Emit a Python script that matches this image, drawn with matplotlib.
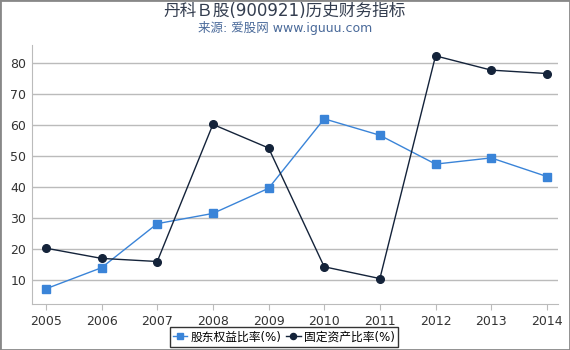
import matplotlib
matplotlib.use("Agg")
import matplotlib.pyplot as plt
from matplotlib.patches import Rectangle

plt.rcParams['font.family'] = ['DejaVu Sans', 'Noto Sans CJK SC']

years = [2005, 2006, 2007, 2008, 2009, 2010, 2011, 2012, 2013, 2014]
equity_ratio = [7.2, 14.0, 28.2, 31.5, 39.6, 62.0, 56.7, 47.4, 49.4, 43.4]
fixed_asset_ratio = [20.3, 17.0, 16.0, 60.2, 52.6, 14.3, 10.5, 82.3, 77.7, 76.6]
yticks = [10, 20, 30, 40, 50, 60, 70, 80]

fig = plt.figure(figsize=(5.7, 3.5), dpi=100)
ax = fig.add_axes([32/570, 1 - 304/350, (558-32)/570, (304-45)/350])

ax.plot(years, equity_ratio, color='#3a84d8', lw=1, marker='s', ms=5.5,
        label='股东权益比率(%)', zorder=3)
ax.plot(years, fixed_asset_ratio, color='#14233a', lw=1, marker='o', ms=5.5,
        label='固定资产比率(%)', zorder=3)

ax.set_xlim(2004.75, 2014.2)
ax.set_ylim(2.3, 85.8)
ax.set_yticks(yticks)
ax.set_xticks(years)
ax.set_xticklabels([str(y) for y in years])
ax.grid(axis='y', color='#bbbbbb', lw=1)
ax.set_axisbelow(True)
for s in ['top', 'right']:
    ax.spines[s].set_visible(False)
ax.spines['left'].set_color('#bbbbbb')
ax.spines['bottom'].set_color('#bbbbbb')
ax.tick_params(axis='both', colors='#333333', labelsize=9, length=0, pad=4)
ax.tick_params(axis='x', length=4, color='#bbbbbb')

fig.text(0.5, 1 - 11/350, '丹科Ｂ股(900921)历史财务指标', ha='center', va='center',
         fontsize=12, color='#333d4f')
fig.text(0.5, 1 - 28/350, '来源: 爱股网 www.iguuu.com', ha='center', va='center',
         fontsize=9, color='#4a6a9a')

leg = fig.legend(loc='center', bbox_to_anchor=(284/570, 1 - 337/350), ncol=2,
                 fontsize=8.5, frameon=True, fancybox=False, handlelength=1.2,
                 handletextpad=0.3, columnspacing=0.4, borderpad=0.3,
                 markerscale=0.8)
leg.get_frame().set_edgecolor('black')
leg.get_frame().set_linewidth(1)

fig.patches.append(Rectangle((0, 0), 1, 1, transform=fig.transFigure,
                             fill=False, edgecolor='#888888', lw=2))

fig.savefig('out.png', dpi=100)
